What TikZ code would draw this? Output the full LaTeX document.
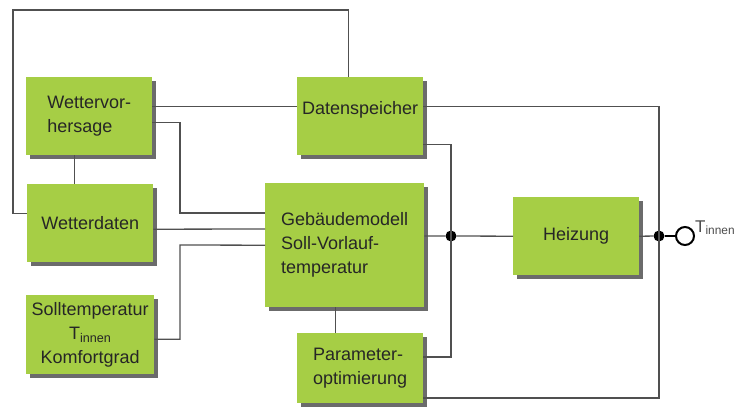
\documentclass[tikz,border=0pt]{standalone}
\usepackage{fontspec}
\setmainfont{Liberation Sans}
\usepackage{tikz}
\usetikzlibrary{shadows}
\definecolor{boxgreen}{HTML}{A6CE45}
\definecolor{wiregray}{HTML}{505050}
\newcommand{\boxfont}{\fontsize{18}{24}\selectfont}
\tikzset{
  block/.style={fill=boxgreen, draw=none, text=black!85, font=\boxfont,
    minimum width=126pt, minimum height=78pt, inner sep=2pt, anchor=north west,
    drop shadow={shadow xshift=4pt, shadow yshift=-4pt, fill=black!58, opacity=1}},
  wire/.style={draw=wiregray, line width=1.3pt},
  dot/.style={circle, fill=black, inner sep=0pt, minimum size=11pt}
}

\begin{document}
\begin{tikzpicture}[x=1pt, y=-1pt]
\useasboundingbox (0,0) rectangle (745,413);
\node[block, align=left] (vorh) at (26,77) {Wettervor-\\hersage};
\node[block] (wdat) at (27,184) {Wetterdaten};
\node[block, align=center, minimum width=128pt, minimum height=79pt] (soll) at (26,295)
  {Solltemperatur\\T\textsubscript{innen}\\Komfortgrad};
\node[block, text depth=16pt] (ds) at (297,77) {Datenspeicher};
\node[block, align=left, minimum width=159pt, minimum height=124pt] (geb) at (265,183)
  {Gebäudemodell\\Soll-Vorlauf-\\temperatur};
\node[block, align=left, minimum height=70pt] (par) at (297,333) {Parameter-\\optimierung};
\node[block] (heiz) at (513,197) {Heizung};
\node[dot] (j1) at (451,236) {};
\node[dot] (j2) at (659,236) {};
\node[circle, draw=black, line width=2pt, fill=white, inner sep=0pt, minimum size=18pt] (out) at (685,236) {};
\node[anchor=base west, inner sep=0pt, text=black!70, font=\fontsize{17}{20}\selectfont] (tin) at (695,232)
  {T\textsubscript{innen}};
% feedback loop over the top
\coordinate (tl) at (13,10);
\draw[wire] ([xshift=-12pt]ds.north) |- (tl) |- ([yshift=10pt]wdat.west);
% weather to storage and model
\draw[wire] ([yshift=10pt]vorh.east) -- ([yshift=10pt]ds.west);
\draw[wire] ([xshift=-15pt]vorh.south) -- ([xshift=-15pt]vorh.south |- wdat.north);
\draw[wire] ([yshift=-6pt]vorh.east) -| (180,213) -- (geb.west |- 0,213);
\draw[wire] ([yshift=-6pt]wdat.east) -- (geb.west |- 0,229);
\draw[wire] ([yshift=-4.5pt]soll.east) -| (180,245) -- (geb.west);
% storage outputs
\draw[wire] ([yshift=10pt]ds.east) -| (j2.center) -- (659,398) -- (par.east |- 0,398);
\draw[wire] ([yshift=-28pt]ds.east) -| (j1.center) -- (451,357) -- (par.east |- 0,357);
% model, heating, output
\draw[wire] (geb.east |- j1) -- (j1) -- (heiz.west);
\draw[wire] (heiz.east) -- (j2);
\draw[line width=2.6pt] (j2) -- (out);
\draw[wire] ([xshift=-9.5pt]geb.south) -- ([xshift=-9.5pt]geb.south |- par.north);
\end{tikzpicture}
\end{document}
